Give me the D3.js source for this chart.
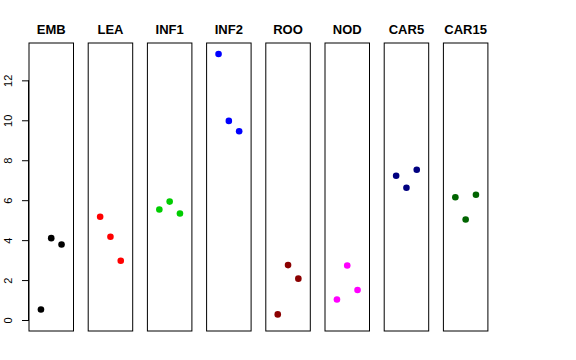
<!DOCTYPE html>
<html><head><meta charset="utf-8">
<script src="https://cdn.jsdelivr.net/npm/d3@7"></script>
<style>body{margin:0;background:#fff}svg{display:block}</style>
</head><body>
<script>
const categories = ["EMB","LEA","INF1","INF2","ROO","NOD","CAR5","CAR15"];
const colors = ["#000000","#FF0000","#00CD00","#0000FF","#8B0000","#FF00FF","#000080","#006400"];
const rep1 = [0.53, 5.17, 5.53, 13.32, 0.28, 1.03, 7.22, 6.15];
const rep2 = [4.10, 4.17, 5.93, 9.97, 2.75, 2.73, 6.62, 5.03];
const rep3 = [3.78, 2.97, 5.33, 9.45, 2.07, 1.50, 7.52, 6.27];
const yTicks = [0,2,4,6,8,10,12];

const W=576,H=360;
const svg=d3.select("body").append("svg").attr("width",W).attr("height",H);
const panelLeft0=29, panelStep=59.2, panelW=44.5, plotTop=43, plotBottom=331;
const y=d3.scaleLinear().domain([-0.55,13.87]).range([plotBottom,plotTop]);
const band=d3.scaleLinear().domain([0,1]).range([panelLeft0,panelLeft0+panelStep]);

categories.forEach((c,i)=>{
  const x0=band(i);
  const x=d3.scaleLinear().domain([-0.16,4.16]).range([x0,x0+panelW]);
  const g=svg.append("g");
  g.append("rect").attr("x",x0).attr("y",plotTop).attr("width",panelW).attr("height",plotBottom-plotTop)
    .attr("fill","none").attr("stroke","#000").attr("stroke-width",1);
  g.append("text").attr("x",x0+panelW/2).attr("y",34).attr("text-anchor","middle")
    .attr("font-family","Liberation Sans, Arial, sans-serif").attr("font-weight","bold")
    .attr("font-size",13).text(c);
  const vals=[rep1[i],rep2[i],rep3[i]];
  g.selectAll("circle").data(vals).enter().append("circle")
    .attr("cx",(d,j)=>x(j+1)).attr("cy",d=>y(d)).attr("r",3.3).attr("fill",colors[i]);
});

const ax=svg.append("g").attr("transform",`translate(${panelLeft0},0)`)
  .call(d3.axisLeft(y).tickValues(yTicks).tickSize(7).tickPadding(4).tickFormat(d3.format("d")));
ax.select(".domain").attr("d",`M-0.5,${y(0)}V${y(12)}`).attr("stroke","#000");
ax.selectAll(".tick line").attr("stroke","#000");
ax.selectAll(".tick text").attr("font-family","Liberation Sans, Arial, sans-serif").attr("font-size",11)
  .attr("fill","#000").attr("text-anchor","middle")
  .attr("transform","translate(-20.5,0) rotate(-90)").attr("y",0).attr("x",0).attr("dy","0.35em");
</script>
</body></html>
